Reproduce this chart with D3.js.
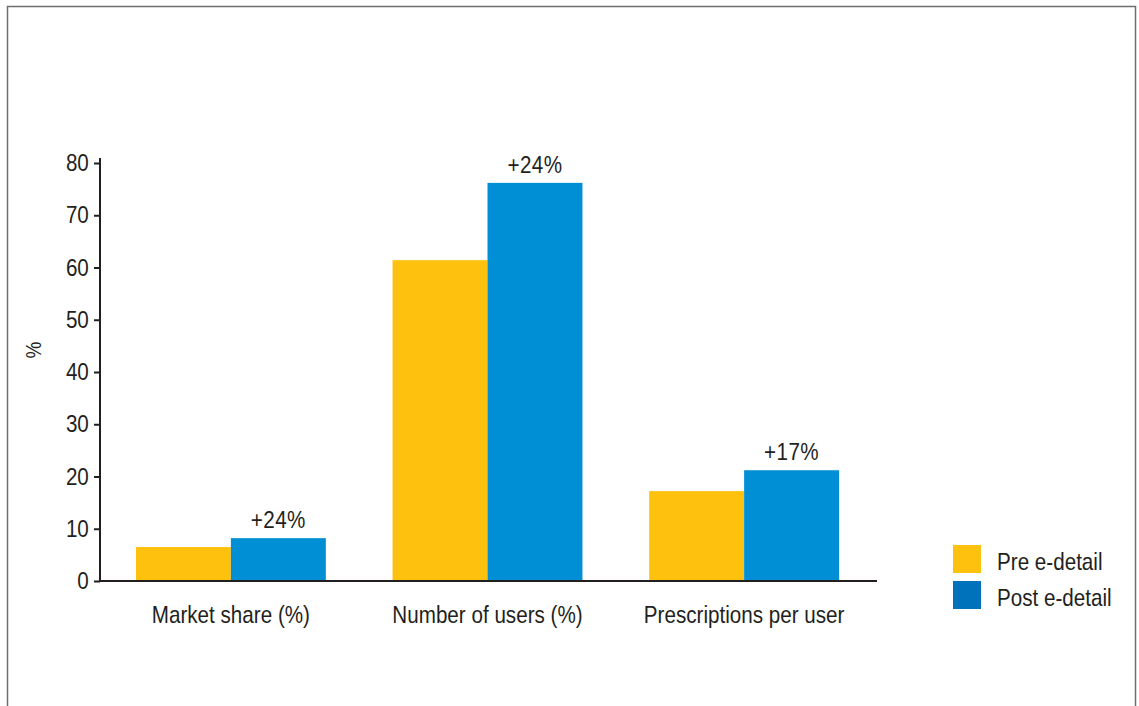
<!DOCTYPE html>
<html lang="en">
<head>
    <meta charset="UTF-8">
    <script src="https://cdn.jsdelivr.net/npm/d3@7"></script>
    <title>e-detail</title>
    <style>
        body { margin: 0; background: #fff; }
        svg text { font-family: "Liberation Sans", Arial, sans-serif; fill: #231f20; }
    </style>
</head>
<body>
<svg width="1139" height="706"></svg>
<script>
    var categories = ["Market share (%)", "Number of users (%)", "Prescriptions per user"];
    var preValues = [6.5, 61.4, 17.2];
    var postValues = [8.2, 76.2, 21.2];
    var changeLabels = ["+24%", "+24%", "+17%"];
    var yTicks = [0, 10, 20, 30, 40, 50, 60, 70, 80];
    var seriesNames = ["Pre e-detail", "Post e-detail"];

    var svg = d3.select("svg");
    var padding = {top: 163, right: 264, bottom: 125, left: 100};
    var width = 1139, height = 706;
    var narrow = 0.86; // squeeze to look like a condensed face

    function label(parent, x, y, txt, anchor, size) {
        return parent.append("text")
            .attr("transform", "translate(" + x + "," + y + ") scale(" + narrow + ",1)")
            .attr("text-anchor", anchor)
            .style("font-size", size + "px")
            .text(txt);
    }

    // frame
    svg.append("rect")
        .attr("x", 7.5).attr("y", 6.5)
        .attr("width", 1128).attr("height", 710)
        .attr("fill", "none")
        .attr("stroke", "#6d6e71")
        .attr("stroke-width", 1.5);

    var x = d3.scaleBand()
        .domain(categories)
        .range([padding.left, width - padding.right])
        .paddingInner(0.26)
        .paddingOuter(0.14);

    var y = d3.scaleLinear()
        .domain([0, 80])
        .range([height - padding.bottom, padding.top]);

    var half = x.bandwidth() / 2;

    var g = svg.append("g");
    g.selectAll(".pre")
        .data(preValues)
        .enter()
        .append("rect")
        .attr("fill", "#fec10e")
        .attr("x", function (d, i) { return x(categories[i]); })
        .attr("y", function (d) { return y(d); })
        .attr("width", half)
        .attr("height", function (d) { return y(0) - y(d); });

    g.selectAll(".post")
        .data(postValues)
        .enter()
        .append("rect")
        .attr("fill", "#008fd5")
        .attr("x", function (d, i) { return x(categories[i]) + half; })
        .attr("y", function (d) { return y(d); })
        .attr("width", half)
        .attr("height", function (d) { return y(0) - y(d); });

    postValues.forEach(function (d, i) {
        label(g, x(categories[i]) + half * 1.5, y(d) - 10, changeLabels[i], "middle", 24)
            .attr("letter-spacing", "0.5px");
    });

    // y axis
    var yAxis = svg.append("g")
        .attr("transform", "translate(" + padding.left + ",0)")
        .call(d3.axisLeft(y).tickValues(yTicks).tickSize(6).tickPadding(7));
    yAxis.select(".domain")
        .attr("stroke", "#231f20").attr("stroke-width", 2)
        .attr("d", "M0," + (y(80) - 5) + "V" + y(0));
    yAxis.selectAll(".tick line").attr("stroke", "#231f20").attr("stroke-width", 2);
    yAxis.selectAll(".tick text")
        .style("font-size", "24px")
        .attr("transform", "scale(" + narrow + ",1)")
        .attr("font-family", null)
        .attr("fill", null);

    // x axis line
    svg.append("line")
        .attr("x1", padding.left).attr("x2", 877)
        .attr("y1", y(0)).attr("y2", y(0))
        .attr("stroke", "#231f20").attr("stroke-width", 2);

    categories.forEach(function (d) {
        label(svg, x(d) + half, y(0) + 42, d, "middle", 24);
    });

    svg.append("text")
        .attr("transform", "translate(41,350) rotate(-90) scale(" + narrow + ",1)")
        .attr("text-anchor", "middle")
        .style("font-size", "22px")
        .text("%");

    // legend
    var legendColors = ["#fec10e", "#0072bc"];
    seriesNames.forEach(function (d, i) {
        var row = svg.append("g")
            .attr("transform", "translate(953," + (545 + i * 36) + ")");
        row.append("rect")
            .attr("width", 28).attr("height", 28)
            .attr("fill", legendColors[i]);
        label(row, 44, 25, d, "start", 24);
    });
</script>
</body>
</html>
